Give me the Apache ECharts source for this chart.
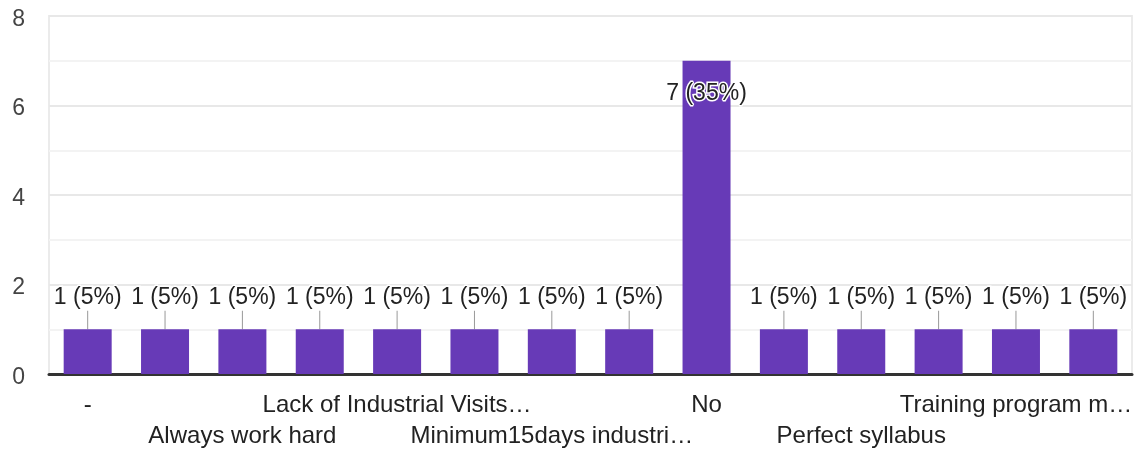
<!DOCTYPE html>
<html>
<head>
<meta charset="utf-8">
<script src="https://cdn.jsdelivr.net/npm/echarts@6/dist/echarts.min.js"></script>
<style>
  html, body { margin: 0; padding: 0; background: #fff; }
  #chart { width: 1142px; height: 452px; }
</style>
</head>
<body>
<div id="chart"></div>
<script>
// categories (only every other one has a visible label in the reference)
const categories = [
  '-', 'All good', 'Always work hard', 'Good', 'Lack of Industrial Visits…', 'Make practical',
  'Minimum15days industri…', 'Nil', 'No', 'Nothing', 'Perfect syllabus', 'Practical knowledge',
  'Training program m…', 'Very good'
];
const counts = [1, 1, 1, 1, 1, 1, 1, 1, 7, 1, 1, 1, 1, 1];
const percents = [5, 5, 5, 5, 5, 5, 5, 5, 35, 5, 5, 5, 5, 5];
const yTicks = [0, 2, 4, 6, 8];

const FONT = '"Liberation Sans", Arial, sans-serif';
const chart = echarts.init(document.getElementById('chart'));

const option = {
  animation: false,
  grid: {
    left: 49, right: 10, top: 16, bottom: 78,
    outerBoundsMode: 'none',
    show: true, borderColor: '#ebebeb', borderWidth: 2
  },
  xAxis: {
    type: 'category',
    data: categories,
    axisLine: { lineStyle: { color: '#333', width: 3 } },
    axisTick: { show: false },
    axisLabel: {
      interval: 0,
      showMinLabel: true,
      showMaxLabel: true,
      margin: 16,
      fontFamily: FONT,
      fontSize: 24,
      color: '#222',
      lineHeight: 31,
      // every other label is shown, alternating between two rows
      formatter: (value, index) => {
        if (index % 2 === 1) return '';
        return index % 4 === 2 ? '\n' + value : value;
      }
    }
  },
  yAxis: {
    type: 'value',
    min: yTicks[0],
    max: yTicks[yTicks.length - 1],
    interval: 2,
    axisLine: { show: false },
    axisTick: { show: false },
    axisLabel: {
      margin: 24,
      formatter: '{t|{value}}',
      rich: { t: { fontFamily: FONT, fontSize: 23, color: '#444', padding: [7, 0, 0, 0] } }
    },
    splitLine: { lineStyle: { color: '#e8e8e8', width: 2 } },
    minorTick: { show: false, splitNumber: 2 },
    minorSplitLine: { show: true, lineStyle: { color: '#f3f3f3', width: 2 } }
  },
  series: [{
    type: 'bar',
    data: counts,
    barWidth: 48,
    itemStyle: { color: '#673ab7' },
    label: {
      show: true,
      position: 'top',
      distance: 0,
      fontFamily: FONT,
      fontSize: 23,
      color: '#222',
      textBorderColor: '#fff',
      textBorderWidth: 3,
      formatter: p => counts[p.dataIndex] + ' (' + percents[p.dataIndex] + '%)'
    },
    labelLayout: p => ({ dy: counts[p.dataIndex] > 4 ? 44 : -20 }),
    labelLine: { show: true, length2: 0, lineStyle: { color: '#999', width: 1 } }
  }]
};

chart.setOption(option);
</script>
</body>
</html>
